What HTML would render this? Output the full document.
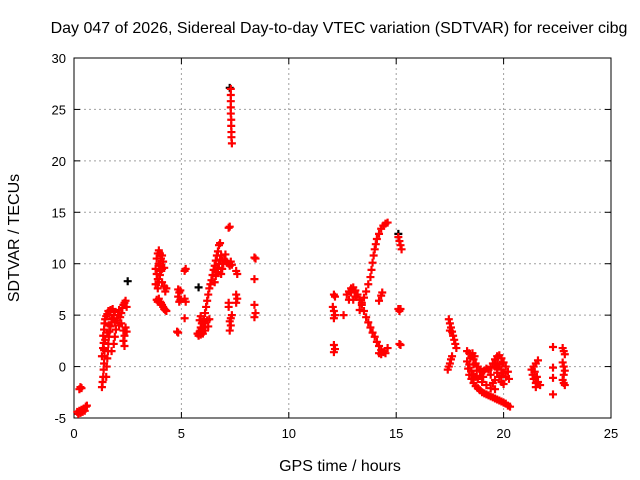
<!DOCTYPE html>
<html><head><meta charset="utf-8"><style>
body{margin:0;background:#fff}
svg{display:block;font-family:"Liberation Sans",sans-serif}
</style></head><body>
<svg id="chart" width="640" height="480" viewBox="0 0 640 480" xmlns="http://www.w3.org/2000/svg">
<text x="339" y="33" text-anchor="middle" font-size="16">Day 047 of 2026, Sidereal Day-to-day VTEC variation (SDTVAR) for receiver cibg</text>
<text transform="translate(19,238) rotate(-90)" text-anchor="middle" font-size="16">SDTVAR / TECUs</text>
<text x="340" y="471" text-anchor="middle" font-size="16">GPS time / hours</text>
<g id="grid"></g>
<g id="axes"></g>
<g id="marks"></g>
</svg>
<script>
const xTicks=[0,5,10,15,20,25];
const yTicks=[-5,0,5,10,15,20,25,30];
const redPoints=[
[0.15,-4.4],[0.2,-4.6],[0.25,-4.3],[0.3,-4.5],[0.35,-4.2],[0.4,-4.4],[0.45,-4.1],[0.5,-4.3],[0.55,-3.9],[0.6,-3.8],[0.25,-2.2],[0.3,-2.0],[0.35,-2.1],
[1.3,-2],[1.33,-1.5],[1.36,-1],[1.38,-0.3],[1.4,0.3],[1.42,1],[1.4,1.6],[1.38,2.3],[1.36,3],[1.4,3.6],[1.42,4.2],[1.45,4.6],[1.5,4.9],[1.55,5.1],[1.6,5.4],[1.7,5.5],[1.8,5.6],
[1.5,-1],[1.52,0],[1.55,0.8],[1.58,1.5],[1.6,2.2],[1.62,2.9],[1.65,3.4],[1.7,3.9],[1.75,4.3],[1.8,4.7],[1.85,5],[1.9,5.3],
[1.3,1],[1.35,1.8],[1.45,2.6],[1.55,3.3],[1.65,4],[1.75,4.6],[1.9,4.3],
[2.0,4.5],[2.05,5],[2.1,5.5],[2.15,4.8],[2.2,5.2],[2.25,5.7],[2.3,6],[2.35,6.2],[2.4,6.4],[2.45,5.8],[2.3,3.5],[2.35,3],[2.3,2.5],[2.35,2],[2.4,3.8],[2.45,3.4],[2.2,4.2],[2.1,4],[1.95,3.6],[1.9,2.9],[1.85,2.2],[1.75,1.5],
[3.8,9.5],[3.85,10.5],[3.9,11],[3.95,11.3],[4.0,11],[4.05,10.5],[4.1,10.8],[4.15,10.2],[4.2,9.6],[3.85,9],[3.9,8.5],[3.95,8.2],[4.0,8.9],[4.05,9.3],[3.8,8],[3.9,7.6],[4.2,7.8],[4.25,7.3],[4.3,7.6],[4.1,8.2],[4.0,9.8],[4.1,9.5],[3.95,10],
[3.85,6.5],[3.9,6.3],[3.95,6.6],[4.0,6.3],[4.05,6.2],[4.1,6.0],[4.15,5.8],[4.2,5.6],[4.25,5.5],[4.3,5.4],
[4.85,7.5],[4.9,7.2],[4.95,7.4],[4.85,6.8],[4.9,6.3],[4.95,6.5],[4.8,3.4],[4.85,3.3],
[5.15,9.3],[5.2,9.5],[5.15,6.6],[5.2,6.3],[5.15,4.7],
[5.75,3.2],[5.8,3.0],[5.85,3.4],[5.9,3.1],[5.95,3.6],[6.0,3.2],[6.05,3.8],[6.1,4.2],[6.05,4.6],[6.1,5.2],[6.15,5.8],[6.2,6.4],[6.25,7],[6.3,7.6],[6.35,8],[6.4,8.4],[6.45,8.9],[6.5,9.4],[6.55,9.8],[6.6,10.3],[6.65,10.8],[6.7,11.2],[6.75,11.8],[6.8,12],[5.85,4.5],[5.9,4.9],[5.95,4.2],[6.2,4.5],[6.25,3.9],[6.3,4.6],[5.9,3.8],[6.0,4.4],[6.1,3.5],
[6.55,8.2],[6.6,8.8],[6.65,9.2],[6.7,9.6],[6.75,10],[6.8,10.4],[6.85,10.8],[6.9,10.3],[6.95,10],[7.0,10.4],[7.05,10.9],[7.1,10.2],[6.9,9.5],[6.85,9.0],
[7.2,13.5],[7.25,13.6],[7.2,10],[7.25,9.8],[7.3,10.2],[7.35,9.9],[7.2,6.2],[7.2,5.8],[7.25,4.4],[7.3,4],[7.25,3.5],[7.35,5],[7.3,4.7],
[7.3,27],[7.3,26.4],[7.3,25.8],[7.3,25.2],[7.3,24.6],[7.32,24],[7.32,23.4],[7.33,22.8],[7.33,22.3],[7.35,21.7],
[7.55,9.3],[7.6,9.0],[7.55,7.0],[7.6,6.6],[7.55,6.2],[8.4,10.6],[8.45,10.5],[8.4,8.5],[8.4,6],[8.45,5.2],[8.4,4.8],
[12.1,7],[12.15,6.8],[12.05,5.8],[12.1,5.4],[12.15,5],[12.1,4.7],[12.1,2.1],[12.15,1.7],[12.1,1.4],[12.55,5],
[12.7,7.0],[12.8,7.3],[12.9,7.6],[13.0,7.7],[13.1,7.4],[13.2,7.0],[13.3,6.5],[13.4,6],[13.5,5.4],[13.6,4.8],[13.7,4.3],[13.8,3.8],[13.9,3.3],[14.0,2.9],[14.1,2.4],[14.2,2],[14.3,1.6],[14.4,1.4],[14.5,1.3],[14.2,1.3],[14.3,1.2],[14.6,1.8],[13.0,6.5],[13.1,6.8],[12.8,6.5],[12.9,7.2],
[13.3,5.5],[13.4,6.2],[13.5,6.7],[13.6,7.3],[13.7,8],[13.8,8.7],[13.85,9.4],[13.9,10.1],[13.95,10.8],[14.0,11.4],[14.05,11.9],[14.1,12.4],[14.2,12.9],[14.3,13.4],[14.4,13.7],[14.5,13.9],[14.6,14.0],[14.2,6.4],[14.3,6.9],[14.35,7.2],
[15.1,12.6],[15.15,12.2],[15.2,11.8],[15.25,11.4],[15.1,5.6],[15.15,5.4],[15.2,5.6],[15.15,2.2],[15.2,2.1],
[17.45,4.6],[17.5,4.2],[17.55,3.8],[17.6,3.4],[17.65,3],[17.7,2.6],[17.75,2.2],[17.8,1.8],[17.5,3.5],[17.4,-0.3],[17.45,0],[17.5,0.3],[17.55,0.7],[17.6,1],
[18.3,1.5],[18.4,1.3],[18.5,1.0],[18.6,0.7],[18.7,0.3],[18.8,0],[18.9,-0.3],[19.0,-0.5],[19.1,-0.4],[19.2,-0.2],[19.3,-0.3],[19.4,-0.1],[19.5,0.3],[19.6,0.7],[19.7,1.0],[19.8,1.1],[19.9,0.8],[20.0,0.4],[20.1,0],[20.2,-0.5],[20.25,-1.2],[19.7,-0.6],[19.8,-1],[19.9,-1.5],[20.0,-1.7],[19.6,-1.3],[19.5,-1.6],[19.4,-0.8],
[19.6,0],[19.7,0.3],[19.8,0.2],[19.9,-0.3],[20.0,-0.6],[20.1,-1],[19.9,-0.9],[19.7,-0.2],[18.45,0.8],[18.6,0.2],[18.75,-0.4],[18.9,-0.9],[19.05,-1],[18.55,1.3],[18.65,1.0],
[18.3,0.5],[18.35,-0.2],[18.4,-0.8],[18.5,-1.2],[18.6,-1.6],[18.7,-1.9],[18.8,-2.1],[18.9,-2.3],[19.0,-2.5],[19.1,-2.6],[19.2,-2.7],[19.3,-2.8],[19.4,-2.9],[19.5,-3],[19.6,-3.1],[19.7,-3.2],[19.8,-3.3],[19.9,-3.4],[20.0,-3.5],[20.1,-3.6],[20.2,-3.8],[20.3,-3.9],
[18.4,0.2],[18.5,-0.4],[18.6,-0.8],[18.7,-1],[18.8,-1.2],[19.0,-1.5],[19.2,-1.8],[19.4,-2.1],[19.6,-2.2],
[21.3,-0.3],[21.4,0],[21.5,0.3],[21.6,0.6],[21.35,-0.8],[21.4,-1.2],[21.5,-1.6],[21.6,-1.5],[21.7,-1.8],[21.5,-2],[21.45,-0.5],[21.55,-1],
[22.3,1.9],[22.3,-0.1],[22.3,-1.1],[22.3,-2.7],[22.75,1.8],[22.8,1.5],[22.85,1.2],[22.75,0.4],[22.8,0],[22.85,-0.4],[22.8,-0.8],[22.75,-1.3],[22.8,-1.6],[22.85,-1.8]
];
const blackPoints=[[2.5,8.3],[5.8,7.7],[7.25,27.1],[15.1,12.9]];

const L=74,R=611,T=58,B=418;
function xs(v){return L+(v-0)/25*(R-L);}
function ys(v){return B-(v+5)/35*(B-T);}
const NS='http://www.w3.org/2000/svg';
function mk(tag,attrs,parent){const e=document.createElementNS(NS,tag);for(const k in attrs)e.setAttribute(k,attrs[k]);parent.appendChild(e);return e;}
const grid=document.getElementById('grid'),axes=document.getElementById('axes'),marks=document.getElementById('marks');
xTicks.forEach(t=>{
  const x=xs(t);
  if(t>0&&t<25){const g=mk('line',{x1:x,y1:T,x2:x,y2:B,stroke:'#a0a0a0','stroke-dasharray':'2,3'},grid);
  
  }
  mk('line',{x1:x,y1:B,x2:x,y2:B-6,stroke:'#000'},axes);
  mk('line',{x1:x,y1:T,x2:x,y2:T+6,stroke:'#000'},axes);
  const lb=mk('text',{x:x,y:B+20,'text-anchor':'middle','font-size':'13'},axes);lb.textContent=t;
  
  
});
yTicks.forEach(t=>{
  const y=ys(t);
  if(t>-5&&t<30){const g=mk('line',{x1:L,y1:y,x2:R,y2:y,stroke:'#a0a0a0','stroke-dasharray':'2,3'},grid);
  
  }
  mk('line',{x1:L,y1:y,x2:L+6,y2:y,stroke:'#000'},axes);
  mk('line',{x1:R,y1:y,x2:R-6,y2:y,stroke:'#000'},axes);
  const lb=mk('text',{x:L-8,y:y+5,'text-anchor':'end','font-size':'13'},axes);lb.textContent=t;
  
  
});
const frame=mk('rect',{x:L,y:T,width:R-L,height:B-T,fill:'none',stroke:'#000'},axes);


function plus(p,color){
  const x=xs(p[0]),y=ys(p[1]);
  const e=mk('path',{d:`M${x-4},${y}H${x+4}M${x},${y-4}V${y+4}`,stroke:color,'stroke-width':'2.2',fill:'none'},marks);
  
  
}
blackPoints.forEach(p=>plus(p,'#000'));
redPoints.forEach(p=>plus(p,'#ff0000'));
</script>
</body></html>
